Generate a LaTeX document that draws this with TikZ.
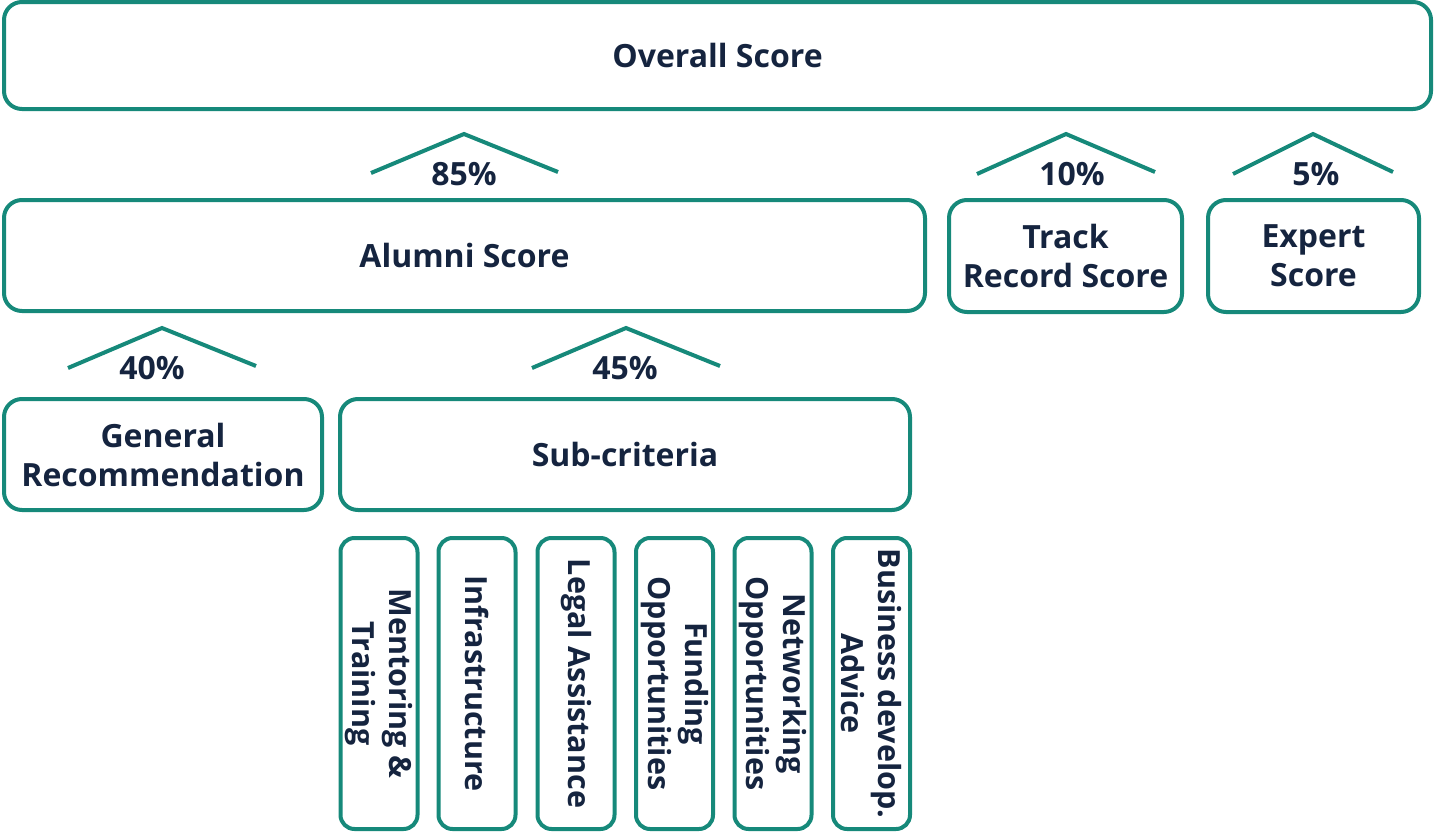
\documentclass[tikz,border=0pt]{standalone}
\usepackage{fontspec}
\setmainfont{Open Sans}
\definecolor{teal1}{HTML}{16897A}
\definecolor{navy1}{HTML}{15243F}
\begin{document}
\begin{tikzpicture}[x=1pt,y=-1pt,
  box/.style={draw=teal1, line width=4pt, rounded corners=18pt, inner sep=0pt,
    text=navy1, font=\fontsize{32}{39}\selectfont\bfseries, align=center},
  vbox/.style={box, rounded corners=14pt, rotate=-90, minimum width=291pt, minimum height=77pt,
    font=\fontsize{30.5}{37}\selectfont\bfseries},
  pct/.style={text=navy1, font=\fontsize{32}{39}\selectfont\bfseries, anchor=base, inner sep=0pt},
  roof/.style={draw=teal1, line width=4pt}]
\useasboundingbox (0,0) rectangle (1435,835);
% top
\node[box, minimum width=1427pt, minimum height=107pt] (overall) at (717.5,55.5) {Overall Score};
% second row
\node[box, minimum width=921pt, minimum height=111pt] (alumni) at (464.5,255.5) {Alumni Score};
\node[box, minimum width=233pt, minimum height=112pt] (track) at (1065.5,256) {Track\\Record Score};
\node[box, minimum width=211pt, minimum height=112pt] (expert) at (1313.5,256) {Expert\\Score};
% third row
\node[box, minimum width=318pt, minimum height=111pt] (general) at (163,454.5) {General\\Recommendation};
\node[box, minimum width=570pt, minimum height=111pt] (sub) at (625,454.5) {Sub-criteria};
% vertical boxes
\node[vbox] (v1) at (379,683.5) {Mentoring \&\\Training};
\node[vbox] (v2) at (477,683.5) {Infrastructure};
\node[vbox] (v3) at (576,683.5) {Legal Assistance};
\node[vbox] (v4) at (674.5,683.5) {Funding\\Opportunities};
\node[vbox] (v5) at (773,683.5) {Networking\\Opportunities};
\node[vbox] (v6) at (871.5,683.5) {Business develop.\\Advice};
% percentages
\node[pct] (p85) at (464,185) {85\%};
\node[pct] (p10) at (1072,185) {10\%};
\node[pct] (p5) at (1316,185) {5\%};
\node[pct] (p40) at (152,379) {40\%};
\node[pct] (p45) at (625,379) {45\%};
% roofs
\draw[roof] (371,173) -- (464,134) -- (558,172);
\draw[roof] (977,174) -- (1066,134) -- (1155,172);
\draw[roof] (1233,174) -- (1313,134) -- (1393,172);
\draw[roof] (68,368) -- (162,328) -- (256,366);
\draw[roof] (532,368) -- (626,328) -- (720,366);
\end{tikzpicture}
\end{document}
